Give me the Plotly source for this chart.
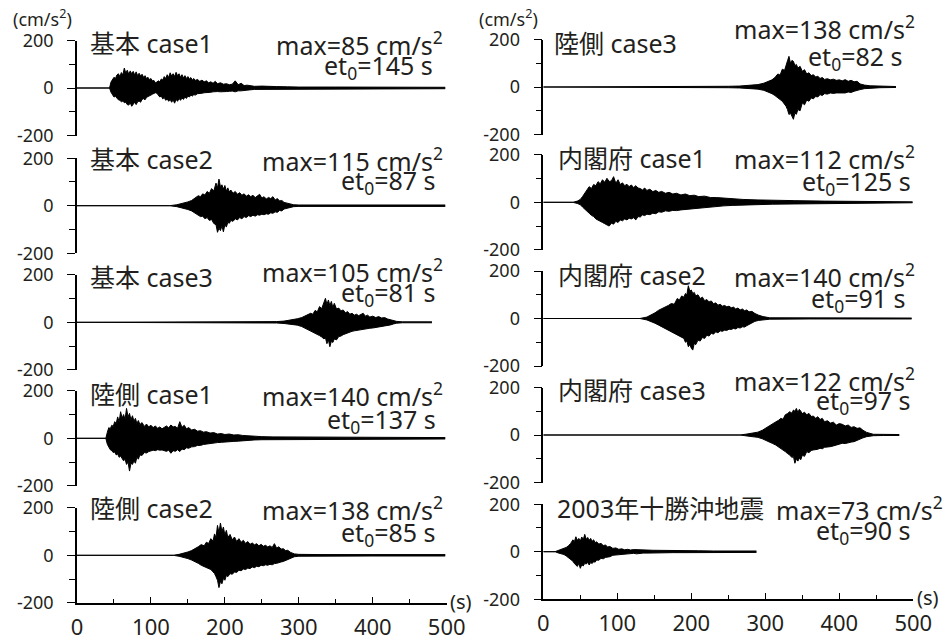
import plotly.graph_objects as go

W, H = 949, 644

# ---------------- data ----------------
x_ticks = [0, 100, 200, 300, 400, 500]
panel_titles = ["基本 case1", "基本 case2", "基本 case3", "陸側 case1", "陸側 case2",
                "陸側 case3", "内閣府 case1", "内閣府 case2", "内閣府 case3", "2003年十勝沖地震"]
max_values = [85, 115, 105, 140, 138, 138, 112, 140, 122, 73]
et0_values = [145, 87, 81, 137, 85, 82, 125, 91, 97, 90]

# envelope (upper / lower) of each acceleration record, cm/s^2 vs time s
kihon1_t = [0, 44, 46, 48, 50, 52, 54, 56, 58, 60, 62, 64, 66, 68, 70, 72, 74, 76, 78, 80, 82, 84, 86, 88, 90, 92, 94, 96, 98, 100,
            102, 104, 106, 108, 110, 112, 114, 116, 118, 120, 122, 124, 126, 128, 130, 132, 134, 136, 138, 140, 142, 144, 146, 148, 150,
            152, 154, 156, 158, 160, 163, 166, 169, 172, 175, 178, 181, 184, 187, 190, 194, 198, 202, 206, 210, 214, 218, 222, 226, 230,
            240, 250, 260, 270, 285, 300, 350, 400, 450, 498]
kihon1_up = [0, 0, 25, 35, 45, 40, 55, 60, 48, 65, 55, 84, 62, 75, 58, 72, 60, 70, 55, 68, 52, 62, 50, 58, 45, 52, 40, 45, 35, 40,
             30, 32, 22, 25, 30, 26, 38, 34, 48, 40, 56, 44, 64, 50, 60, 48, 66, 52, 60, 45, 56, 42, 52, 40, 48,
             38, 44, 34, 40, 32, 36, 28, 33, 26, 30, 22, 26, 20, 28, 18, 22, 16, 18, 14, 16, 30, 14, 20, 10, 12,
             7, 8, 6, 6, 5, 4, 4, 4, 3, 3]
kihon1_lo = [0, 0, -18, -30, -38, -35, -45, -50, -52, -58, -55, -62, -60, -70, -72, -62, -77, -66, -60, -70, -58, -55, -60, -48, -45, -50, -40, -36, -34, -30,
             -26, -24, -20, -22, -30, -38, -34, -46, -40, -52, -46, -56, -48, -60, -50, -64, -48, -56, -44, -52, -42, -48, -38, -44, -34,
             -38, -30, -34, -28, -30, -24, -24, -22, -20, -20, -18, -18, -16, -17, -15, -16, -14, -15, -14, -13, -16, -12, -12, -9, -9,
             -6, -6, -5, -5, -4, -4, -3, -3, -3, -3]

kihon2_t = [0, 125, 135, 140, 145, 150, 155, 158, 161, 164, 167, 170, 173, 176, 179, 182, 185, 188, 190, 192,
            194, 196, 198, 200, 202, 204, 206, 208, 211, 214, 217, 220, 223, 226, 229, 232, 235, 238, 241, 244,
            247, 250, 253, 256, 259, 262, 265, 268, 271, 274, 277, 280, 284, 288, 293, 300, 330, 400, 498]
kihon2_up = [0, 0, 4, 7, 10, 16, 22, 28, 35, 42, 38, 50, 45, 60, 52, 72, 62, 95, 75, 112,
             80, 88, 70, 85, 62, 75, 58, 66, 52, 60, 48, 55, 44, 50, 40, 46, 38, 44, 34, 40,
             48, 32, 38, 28, 35, 30, 38, 24, 30, 20, 22, 14, 10, 6, 4, 3, 3, 3, 3]
kihon2_lo = [0, 0, -4, -7, -10, -16, -22, -28, -36, -40, -46, -44, -55, -50, -62, -58, -75, -80, -112, -95,
             -105, -85, -110, -80, -90, -70, -74, -62, -66, -55, -60, -50, -55, -46, -50, -42, -46, -40, -44, -38,
             -40, -36, -38, -34, -36, -30, -32, -26, -28, -20, -22, -14, -10, -6, -4, -3, -3, -3, -3]

kihon3_t = [0, 256, 270, 280, 290, 298, 304, 308, 312, 316, 319, 322, 325, 328, 331, 334, 336, 338, 340, 342,
            344, 346, 348, 351, 354, 357, 360, 363, 366, 369, 372, 375, 378, 381, 384, 387, 390, 393, 396, 400,
            404, 408, 412, 416, 420, 424, 428, 432, 440, 480]
kihon3_up = [0, 0, 3, 5, 9, 15, 20, 26, 30, 38, 34, 50, 44, 66, 58, 80, 101, 75, 94, 70,
             88, 62, 80, 56, 60, 48, 52, 40, 45, 34, 38, 30, 34, 28, 32, 38, 26, 30, 22, 26,
             20, 24, 18, 20, 14, 11, 7, 4, 2, 2]
kihon3_lo = [0, 0, -3, -5, -8, -12, -18, -24, -30, -36, -40, -45, -52, -56, -62, -70, -65, -90, -74, -103,
             -80, -85, -70, -74, -60, -58, -52, -48, -44, -40, -38, -36, -34, -32, -30, -30, -28, -26, -25, -24,
             -22, -21, -20, -18, -14, -11, -7, -4, -2, -2]

rikugawa1_t = [0, 39, 41, 43, 45, 47, 49, 51, 53, 55, 57, 59, 61, 63, 65, 67, 69, 71, 73, 75,
               77, 79, 81, 83, 85, 88, 91, 94, 97, 100, 103, 106, 109, 112, 115, 118, 121, 124, 127, 130,
               133, 136, 139, 142, 145, 148, 151, 155, 159, 163, 167, 171, 175, 180, 185, 190, 195, 200, 206, 212,
               218, 224, 232, 240, 250, 265, 280, 300, 330, 360, 400, 450, 498]
rikugawa1_up = [0, 0, 25, 45, 40, 55, 50, 70, 62, 90, 70, 112, 85, 100, 80, 126, 90, 105, 78, 95,
                72, 84, 62, 75, 58, 66, 50, 60, 48, 55, 45, 52, 42, 48, 40, 46, 52, 44, 56, 48,
                50, 42, 70, 46, 55, 40, 45, 35, 38, 30, 32, 26, 28, 22, 24, 18, 20, 16, 18, 14,
                15, 12, 10, 8, 7, 6, 6, 5, 5, 5, 4, 4, 3]
rikugawa1_lo = [0, 0, -25, -40, -48, -52, -60, -58, -70, -66, -80, -75, -84, -95, -88, -110, -100, -138, -105, -110,
                -95, -105, -80, -88, -70, -72, -60, -62, -56, -54, -50, -52, -48, -50, -49, -52, -55, -50, -63, -52,
                -55, -48, -56, -45, -48, -40, -42, -36, -35, -30, -30, -26, -24, -21, -20, -18, -17, -15, -14, -13,
                -12, -10, -8, -7, -6, -6, -5, -5, -5, -5, -4, -4, -3]

rikugawa2_t = [0, 130, 138, 144, 150, 155, 160, 164, 168, 172, 175, 178, 181, 184, 186, 188, 190, 192, 194, 196,
               198, 200, 202, 204, 207, 210, 213, 216, 219, 222, 225, 228, 231, 234, 237, 240, 243, 246, 249, 252,
               255, 258, 261, 264, 267, 270, 273, 276, 279, 282, 285, 289, 294, 300, 330, 400, 498]
rikugawa2_up = [0, 0, 4, 8, 14, 20, 28, 36, 45, 40, 55, 50, 70, 60, 90, 75, 126, 95, 136, 100,
                119, 85, 105, 75, 88, 65, 77, 58, 70, 55, 63, 50, 58, 46, 52, 44, 49, 40, 46, 38,
                42, 35, 40, 33, 49, 30, 36, 26, 28, 20, 21, 12, 6, 4, 3, 3, 3]
rikugawa2_lo = [0, 0, -4, -8, -14, -20, -26, -34, -42, -48, -50, -56, -60, -70, -77, -90, -105, -136, -110, -120,
                -98, -105, -85, -90, -77, -80, -70, -72, -63, -65, -58, -60, -54, -56, -49, -52, -46, -48, -42, -44,
                -40, -42, -38, -40, -35, -34, -30, -28, -26, -22, -18, -12, -6, -4, -3, -3, -3]

rikugawa3_t = [0, 234, 250, 265, 280, 290, 298, 304, 309, 313, 317, 320, 323, 326, 328, 330, 332, 334, 336, 338,
               340, 342, 344, 347, 350, 353, 356, 359, 362, 365, 368, 371, 374, 377, 380, 384, 388, 392, 396, 400,
               404, 408, 412, 416, 420, 424, 428, 434, 442, 455, 476.6]
rikugawa3_up = [0, 0, 3, 4, 6, 10, 16, 22, 30, 40, 55, 50, 75, 70, 94, 110, 129, 100, 112, 108,
                90, 95, 80, 87, 66, 73, 55, 60, 48, 52, 42, 45, 36, 40, 32, 35, 30, 33, 28, 30,
                26, 31, 24, 28, 22, 24, 13, 8, 5, 3, 2]
rikugawa3_lo = [0, 0, -3, -4, -6, -9, -14, -20, -28, -36, -48, -53, -60, -70, -81, -95, -116, -110, -125, -136,
                -110, -115, -95, -100, -67, -75, -55, -60, -46, -50, -40, -42, -32, -36, -28, -30, -25, -27, -25, -26,
                -24, -25, -21, -23, -18, -16, -11, -7, -5, -3, -2]

naikakufu1_t = [0, 40, 46, 50, 53, 56, 59, 62, 65, 68, 71, 74, 77, 80, 83, 86, 89, 92, 95, 98,
                101, 104, 107, 110, 113, 116, 119, 122, 125, 128, 131, 134, 137, 140, 144, 148, 152, 156, 160, 165,
                170, 175, 180, 186, 192, 198, 204, 210, 218, 226, 234, 244, 256, 270, 290, 310, 340, 380, 420, 460, 499]
naikakufu1_up = [0, 0, 5, 12, 24, 38, 50, 66, 58, 75, 70, 87, 78, 95, 84, 101, 88, 90, 108, 80,
                 95, 75, 82, 70, 76, 66, 73, 62, 70, 60, 58, 52, 60, 50, 55, 45, 50, 42, 46, 38,
                 42, 35, 38, 31, 35, 28, 30, 24, 26, 20, 20, 17, 14, 12, 10, 8, 7, 5, 4, 3, 2]
naikakufu1_lo = [0, 0, -5, -10, -20, -30, -40, -46, -55, -60, -70, -74, -80, -85, -90, -95, -100, -88, -92, -80,
                 -85, -74, -78, -70, -74, -67, -70, -65, -74, -60, -62, -53, -56, -50, -52, -46, -48, -40, -42, -36,
                 -38, -34, -35, -32, -30, -28, -28, -24, -22, -20, -18, -15, -13, -11, -9, -8, -7, -5, -4, -3, -2]

naikakufu2_t = [0, 130.6, 140, 146, 151, 156, 161, 165, 169, 173, 177, 181, 184, 187, 190, 192, 194, 196, 198, 200,
                202, 204, 206, 209, 212, 215, 218, 221, 224, 227, 230, 233, 236, 239, 242, 245, 248, 251, 254, 257,
                260, 263, 266, 269, 272, 275, 278, 282, 286, 291, 297, 306, 360, 497.7]
naikakufu2_up = [0, 0, 6, 14, 24, 35, 42, 49, 55, 63, 60, 84, 78, 95, 90, 105, 100, 138, 115, 120,
                 105, 110, 95, 100, 84, 90, 75, 80, 70, 74, 62, 66, 56, 60, 52, 55, 49, 52, 45, 48,
                 40, 44, 36, 40, 33, 36, 28, 30, 21, 14, 8, 3, 2, 2]
naikakufu2_lo = [0, 0, -6, -12, -20, -28, -36, -42, -50, -56, -62, -70, -75, -78, -84, -100, -95, -119, -110, -125,
                 -133, -105, -110, -91, -95, -80, -84, -70, -74, -62, -66, -56, -60, -52, -54, -49, -50, -45, -46, -42,
                 -44, -38, -40, -35, -36, -30, -25, -18, -12, -8, -5, -3, -2, -2]

naikakufu3_t = [0, 265.8, 275, 283, 290, 296, 301, 306, 310, 314, 318, 321, 324, 327, 330, 333, 336, 338, 340, 342,
                344, 346, 348, 350, 353, 356, 359, 362, 365, 368, 371, 374, 377, 380, 384, 388, 392, 396, 400, 404,
                408, 412, 416, 420, 424, 428, 432, 437, 446, 460, 481]
naikakufu3_up = [0, 0, 4, 7, 12, 20, 30, 42, 48, 55, 62, 70, 66, 85, 90, 98, 92, 105, 100, 112,
                 95, 108, 100, 90, 96, 85, 91, 78, 80, 70, 77, 65, 70, 56, 60, 50, 54, 42, 48, 45,
                 38, 42, 32, 35, 28, 30, 20, 11, 3, 2, 2]
naikakufu3_lo = [0, 0, -4, -6, -10, -16, -22, -28, -36, -42, -50, -56, -62, -70, -78, -84, -95, -90, -119, -100,
                 -110, -98, -104, -85, -90, -70, -75, -65, -63, -62, -60, -56, -58, -52, -52, -49, -46, -42, -40, -35,
                 -36, -32, -30, -28, -22, -18, -12, -7, -3, -2, -2]

tokachi_t = [0, 15.8, 20, 24, 28, 31, 34, 37, 40, 42, 44, 46, 48, 50, 52, 54, 56, 58, 60, 62,
             64, 66, 68, 70, 72, 75, 78, 81, 84, 87, 90, 94, 98, 102, 106, 110, 114, 118, 122, 126,
             130, 135, 140, 148, 160, 175, 190, 210, 230, 260, 288]
tokachi_up = [0, 0, 5, 9, 14, 18, 25, 35, 50, 42, 63, 48, 56, 45, 62, 50, 73, 52, 60, 48,
              56, 44, 50, 38, 42, 32, 35, 26, 28, 20, 22, 14, 16, 10, 12, 8, 10, 7, 9, 8,
              10, 6, 7, 6, 5, 5, 4, 4, 3, 3, 3]
tokachi_lo = [0, 0, -5, -8, -12, -18, -25, -32, -40, -50, -56, -62, -50, -70, -55, -60, -49, -52, -45, -56,
              -45, -50, -42, -44, -35, -36, -28, -30, -24, -24, -21, -15, -14, -11, -10, -9, -8, -7, -7, -9,
              -7, -6, -6, -5, -5, -4, -4, -4, -3, -3, -3]

records = [
    (kihon1_t, kihon1_up, kihon1_lo), (kihon2_t, kihon2_up, kihon2_lo),
    (kihon3_t, kihon3_up, kihon3_lo), (rikugawa1_t, rikugawa1_up, rikugawa1_lo),
    (rikugawa2_t, rikugawa2_up, rikugawa2_lo), (rikugawa3_t, rikugawa3_up, rikugawa3_lo),
    (naikakufu1_t, naikakufu1_up, naikakufu1_lo), (naikakufu2_t, naikakufu2_up, naikakufu2_lo),
    (naikakufu3_t, naikakufu3_up, naikakufu3_lo), (tokachi_t, tokachi_up, tokachi_lo),
]

# ---------------- layout geometry (pixels) ----------------
FONT = "Noto Sans, Noto Sans CJK JP, sans-serif"
TXT = "#231f20"
left_x = (77, 446.7)
right_x = (543.3, 913.3)
left_c = [88, 205.7, 322.3, 438.3, 555.3]
right_c = [87, 202.3, 318.5, 435, 551.7]
HALF = 47.5


def px(x):
    return x / W


def py(y):
    return 1 - y / H


fig = go.Figure()
annotations = []

for i in range(10):
    col = 0 if i < 5 else 1
    row = i % 5
    xd = left_x if col == 0 else right_x
    yc = (left_c if col == 0 else right_c)[row]
    n = i + 1
    xa = "x" if n == 1 else f"x{n}"
    ya = "y" if n == 1 else f"y{n}"
    t, up, lo = records[i]
    fig.add_trace(go.Scatter(x=t, y=up, mode="lines", line=dict(color="black", width=1),
                             xaxis=xa, yaxis=ya, showlegend=False, hoverinfo="skip"))
    fig.add_trace(go.Scatter(x=t, y=lo, mode="lines", line=dict(color="black", width=1),
                             fill="tonexty", fillcolor="black",
                             xaxis=xa, yaxis=ya, showlegend=False, hoverinfo="skip"))
    bottom = row == 4
    xkey = "xaxis" if n == 1 else f"xaxis{n}"
    ykey = "yaxis" if n == 1 else f"yaxis{n}"
    xaxis = dict(domain=[px(xd[0]), px(xd[1])], range=[0, 500], anchor=ya, automargin=False,
                 showgrid=False, zeroline=False, fixedrange=True)
    if bottom:
        xaxis.update(showline=True, linecolor="black", linewidth=1.5,
                     tickvals=x_ticks, ticktext=[str(v) for v in x_ticks],
                     ticks="inside", ticklen=6, tickcolor="black", tickwidth=1,
                     minor=dict(tickvals=[50, 150, 250, 350, 450], ticks="inside", ticklen=4,
                                tickcolor="black", tickwidth=1),
                     tickfont=dict(family=FONT, size=22, color=TXT), ticklabelstandoff=4)
    else:
        xaxis.update(visible=False)
    yaxis = dict(domain=[py(yc + HALF), py(yc - HALF)], range=[-200, 200], anchor=xa, automargin=False,
                 showgrid=False, zeroline=False, fixedrange=True,
                 showline=True, linecolor="black", linewidth=1.5,
                 tickvals=[-200, 0, 200], ticktext=["-200", "0", "200"],
                 ticks="outside", ticklen=8, tickcolor="black", tickwidth=1,
                 minor=dict(tickvals=[-100, 100], ticks="outside", ticklen=6,
                            tickcolor="black", tickwidth=1),
                 tickfont=dict(family=FONT, size=18, color=TXT), ticklabelstandoff=10)
    fig.update_layout({xkey: xaxis, ykey: yaxis})

# text placement (pixels)
title_pos = [(88, 42.7), (88, 159.3), (88, 276.7), (88, 394), (88, 508),
             (552, 43), (556, 158), (556, 275), (556, 390), (555, 508.3)]
max_pos = [(445, 43), (445, 159), (445, 270), (445, 394), (445, 508),
           (917, 28), (917, 158), (917, 275), (917, 379), (945, 508)]
et_pos = [(435, 66.7), (438, 181.7), (438, 293.3), (438, 420), (438, 533),
          (905, 57), (913, 182.7), (908, 299), (913, 401), (913, 531.7)]

for i in range(10):
    annotations.append(dict(x=px(title_pos[i][0]), y=py(title_pos[i][1]), xref="paper", yref="paper",
                            text=panel_titles[i], showarrow=False, xanchor="left", yanchor="middle",
                            font=dict(family=FONT, size=25, color=TXT)))
    annotations.append(dict(x=px(max_pos[i][0]), y=py(max_pos[i][1]), xref="paper", yref="paper",
                            text=f"max={max_values[i]} cm/s<sup>2</sup>", showarrow=False,
                            xanchor="right", yanchor="middle",
                            font=dict(family=FONT, size=25, color=TXT)))
    annotations.append(dict(x=px(et_pos[i][0]), y=py(et_pos[i][1]), xref="paper", yref="paper",
                            text=f"et<sub>0</sub>={et0_values[i]} s", showarrow=False,
                            xanchor="right", yanchor="middle",
                            font=dict(family=FONT, size=25, color=TXT)))

for xc in (42, 508):
    annotations.append(dict(x=px(xc), y=py(18), xref="paper", yref="paper",
                            text="(cm/s<sup>2</sup>)", showarrow=False, xanchor="center",
                            yanchor="middle", font=dict(family=FONT, size=18, color=TXT)))
for (xl, yl) in ((448, 601), (915, 597)):
    annotations.append(dict(x=px(xl), y=py(yl), xref="paper", yref="paper",
                            text="(s)", showarrow=False, xanchor="left",
                            yanchor="middle", font=dict(family=FONT, size=20, color=TXT)))

fig.update_layout(width=W, height=H, margin=dict(l=0, r=0, t=0, b=0, pad=0),
                  paper_bgcolor="white", plot_bgcolor="white",
                  annotations=annotations, showlegend=False)

fig.write_html("out.html")
